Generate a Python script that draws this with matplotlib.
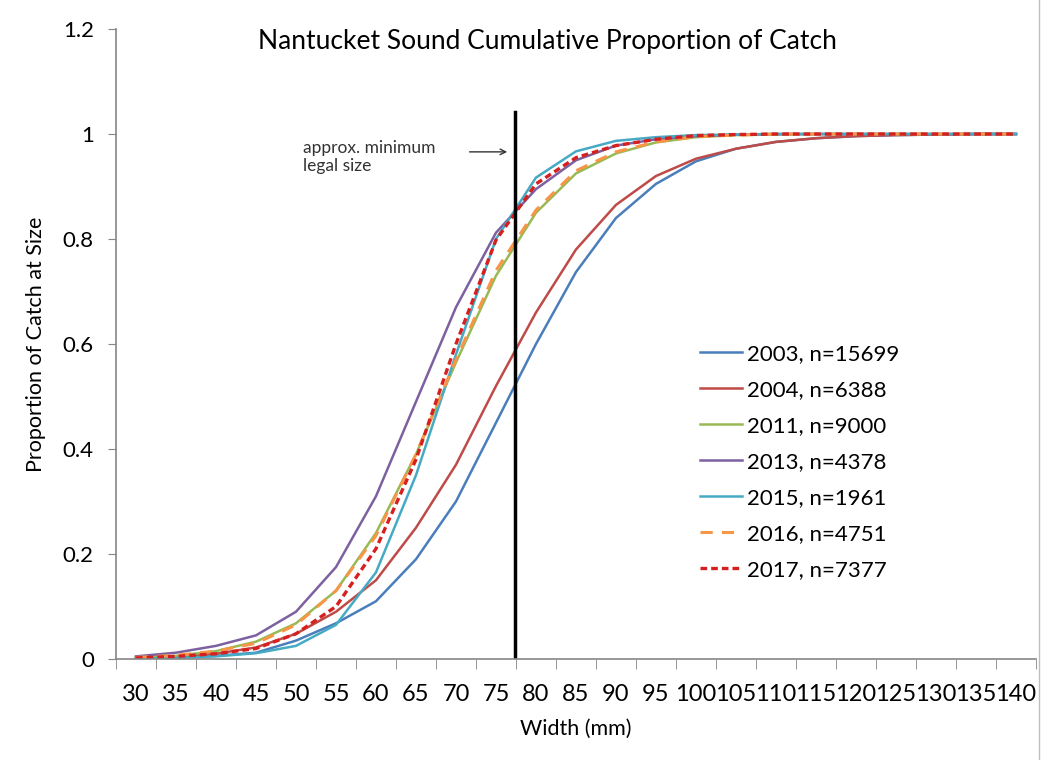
#!/usr/bin/env python3
"""
Nantucket Sound cumulative proportion of catch by width, one line per survey year.
"""
import matplotlib
matplotlib.use("Agg")
import matplotlib.pyplot as plt
from matplotlib.lines import Line2D

plt.rcParams['font.family'] = ['Lato', 'DejaVu Sans']

# Width classes (mm), used as categories
widths = [30, 35, 40, 45, 50, 55, 60, 65, 70, 75, 80, 85, 90, 95,
          100, 105, 110, 115, 120, 125, 130, 135, 140]

# Cumulative proportion of catch at size
y2003 = [0.002, 0.003, 0.006, 0.012, 0.035, 0.068, 0.11, 0.19, 0.30, 0.45, 0.60, 0.737,
         0.84, 0.905, 0.948, 0.972, 0.985, 0.992, 0.996, 0.998, 0.999, 1.0, 1.0]
y2004 = [0.002, 0.005, 0.01, 0.022, 0.048, 0.09, 0.15, 0.25, 0.37, 0.52, 0.66, 0.78,
         0.865, 0.92, 0.953, 0.972, 0.985, 0.992, 0.996, 0.998, 0.999, 1.0, 1.0]
y2011 = [0.002, 0.006, 0.015, 0.033, 0.068, 0.13, 0.24, 0.39, 0.565, 0.73, 0.85, 0.925,
         0.963, 0.984, 0.994, 0.998, 0.999, 1.0, 1.0, 1.0, 1.0, 1.0, 1.0]
y2013 = [0.005, 0.012, 0.025, 0.045, 0.09, 0.175, 0.31, 0.49, 0.67, 0.812, 0.895, 0.95,
         0.978, 0.99, 0.996, 0.999, 1.0, 1.0, 1.0, 1.0, 1.0, 1.0, 1.0]
y2015 = [0.001, 0.002, 0.005, 0.011, 0.025, 0.065, 0.165, 0.35, 0.58, 0.80, 0.917, 0.967,
         0.987, 0.994, 0.998, 0.999, 1.0, 1.0, 1.0, 1.0, 1.0, 1.0, 1.0]
y2016 = [0.003, 0.007, 0.015, 0.03, 0.065, 0.13, 0.235, 0.39, 0.57, 0.74, 0.855, 0.93,
         0.966, 0.985, 0.995, 0.998, 1.0, 1.0, 1.0, 1.0, 1.0, 1.0, 1.0]
y2017 = [0.002, 0.005, 0.01, 0.02, 0.048, 0.10, 0.21, 0.38, 0.60, 0.798, 0.905, 0.955,
         0.978, 0.99, 0.997, 0.999, 1.0, 1.0, 1.0, 1.0, 1.0, 1.0, 1.0]

labels = ['2003, n=15699', '2004, n=6388', '2011, n=9000', '2013, n=4378',
          '2015, n=1961', '2016, n=4751', '2017, n=7377']

# approx. minimum legal size (mm), sits between the 75 and 80 categories
legal_size = 77.35

fig = plt.figure(figsize=(10.42, 7.6), dpi=100)
ax = fig.add_axes([0.1113, 0.1329, 0.8829, 0.8289])

x = list(range(len(widths)))
series = [y2003, y2004, y2011, y2013, y2015, y2016, y2017]
colors = ['#4A7EBB', '#BE4B48', '#98B954', '#7D60A0', '#46AAC5', '#F79646', '#D62020']
styles = ['-', '-', '-', '-', '-', (0, (4, 3)), (0, (2, 1.2))]
widths_lw = [1.8, 1.8, 1.8, 1.8, 1.8, 2.2, 2.4]
for ys, c, ls, lw, lab in zip(series, colors, styles, widths_lw, labels):
    ax.plot(x, ys, color=c, linestyle=ls, linewidth=lw, label=lab)

# vertical line at the legal size (convert mm to category position)
x_legal = (legal_size - widths[0]) / (widths[1] - widths[0])
ax.plot([x_legal, x_legal], [0, 1.042], color='black', linewidth=2.5)

ax.annotate('', xy=(x_legal - 0.12, 0.966), xytext=(x_legal - 1.2, 0.966),
            arrowprops=dict(arrowstyle='->', color='#333333', lw=1.0))
ax.text(x_legal - 5.29, 0.988, 'approx. minimum\nlegal size', fontsize=12.5,
        color='#333333', ha='left', va='top', linespacing=1.1)

ax.set_xlim(-0.5, len(widths) - 0.5)
ax.set_ylim(0, 1.2)
ax.set_xticks(x)
ax.set_xticklabels([str(w) for w in widths])
ax.set_xticks([i - 0.5 for i in range(len(widths) + 1)], minor=True)
ax.tick_params(axis='x', which='major', length=0, labelsize=17, pad=18)
ax.tick_params(axis='x', which='minor', length=7, color='#868686', direction='out')
ax.set_yticks([0, 0.2, 0.4, 0.6, 0.8, 1.0, 1.2])
ax.set_yticklabels(['0', '0.2', '0.4', '0.6', '0.8', '1', '1.2'])
ax.tick_params(axis='y', length=6, color='#868686', labelsize=16, pad=10)

for side in ['top', 'right']:
    ax.spines[side].set_visible(False)
for side in ['left', 'bottom']:
    ax.spines[side].set_color('#868686')
    ax.spines[side].set_linewidth(1.2)

ax.set_xlabel('Width (mm)', fontsize=15.5, labelpad=10)
ax.set_ylabel('Proportion of Catch at Size', fontsize=15.5, labelpad=12)
fig.text(0.525, 0.945, 'Nantucket Sound Cumulative Proportion of Catch',
         fontsize=19, ha='center', va='center')

ax.legend(loc='upper left', bbox_to_anchor=(0.6526, 0.574), bbox_transform=fig.transFigure,
          frameon=False, fontsize=16, handlelength=1.9, handletextpad=0.2,
          labelspacing=0.72)

# light border on the right edge of the chart area
fig.add_artist(Line2D([0.997, 0.997], [0.0, 1.0], transform=fig.transFigure,
                      color='#BFBFBF', linewidth=1))

fig.savefig('out.png', dpi=100)
